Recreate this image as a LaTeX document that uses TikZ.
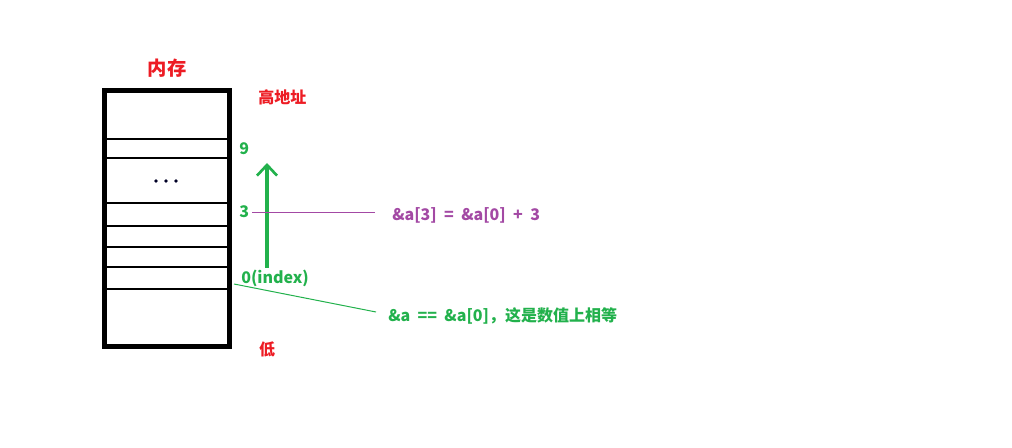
\documentclass[tikz,border=0pt]{standalone}
\usepackage{fontspec}
\setmainfont{Noto Sans CJK SC}
\newfontfamily\lat{Noto Sans CJK SC}[WordSpace=2.0]
\usetikzlibrary{arrows.meta}
\definecolor{pred}{RGB}{237,28,36}
\definecolor{pgreen}{RGB}{34,177,76}
\definecolor{ppurple}{RGB}{163,73,164}
\tikzset{
  lbl/.style={font=\fontsize{12}{14}\selectfont\bfseries, inner sep=0pt},
  cell/.style={line width=0.9pt},
}
\begin{document}
\begin{tikzpicture}[x=0.75pt,y=-0.75pt]
\useasboundingbox (0,0) rectangle (1012,448);
% memory box
\node[draw, line width=3.75pt, minimum width=125*0.75pt, minimum height=256.5*0.75pt, inner sep=0pt] (box) at (167,218.75) {};
\foreach \yy in {139,158,203,226,247,267,289}
  \draw[cell] (106,\yy) -- (228,\yy);
\foreach \xx in {156,166,176}
  \fill[black!85!blue] (\xx,181) circle (1.4pt);
\node[lbl, text=pred, font=\fontsize{14.5}{16}\selectfont\bfseries] (title) at (167,68) {内存};
\node[lbl, text=pred, anchor=west] (high) at (258,97) {高地址};
\node[lbl, text=pred] (low) at (267,349) {低};
\node[lbl, text=pgreen, anchor=west] (n9) at (239,149) {9};
\node[lbl, text=pgreen, anchor=west] (n3) at (239,212) {3};
\node[lbl, text=pgreen, anchor=west] (n0) at (241,278) {0(index)};
% arrow
\coordinate (abot) at (267,268);
\coordinate (atop) at (267,163);
\draw[pgreen, line width=2.8pt, -{Straight Barb[length=8pt,width=15pt,line width=2pt]}] (abot) -- (atop);
% purple
\node[lbl, text=ppurple, anchor=west] (eq1) at (392,215) {\lat \&a[3] = \&a[0] + 3};
\coordinate (p1) at (252,213);
\coordinate (p2) at (375,213);
\draw[ppurple, line width=0.75pt] (p1) -- (p2);
% green
\node[lbl, text=pgreen, anchor=west] (eq2) at (388,316) {{\lat \&a == \&a[0]}，这是数值上相等};
\coordinate (g1) at (234,284);
\coordinate (g2) at (376,312);
\draw[pgreen, line width=0.75pt] (g1) -- (g2);
\end{tikzpicture}
\end{document}
